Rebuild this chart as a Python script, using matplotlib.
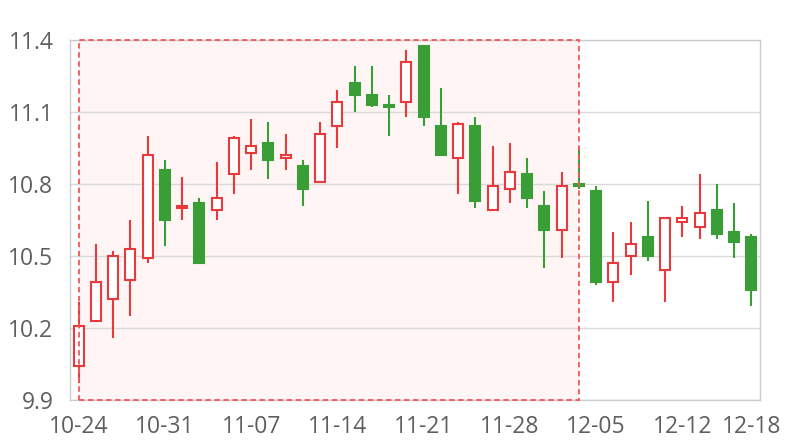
import matplotlib
matplotlib.use("Agg")
import matplotlib.pyplot as plt
from matplotlib.patches import Rectangle

dates = ["10-24", "10-25", "10-26", "10-27", "10-28",
         "10-31", "11-01", "11-02", "11-03", "11-04",
         "11-07", "11-08", "11-09", "11-10", "11-11",
         "11-14", "11-15", "11-16", "11-17", "11-18",
         "11-21", "11-22", "11-23", "11-24", "11-25",
         "11-28", "11-29", "11-30", "12-01", "12-02",
         "12-05", "12-06", "12-07", "12-08", "12-09",
         "12-12", "12-13", "12-14", "12-15", "12-18"]
opens = [10.04, 10.23, 10.32, 10.40, 10.49, 10.86, 10.70, 10.72, 10.69, 10.84,
         10.93, 10.97, 10.91, 10.875, 10.81, 11.04, 11.22, 11.17, 11.13, 11.14,
         11.375, 11.04, 10.91, 11.04, 10.69, 10.78, 10.84, 10.71, 10.61, 10.80,
         10.77, 10.39, 10.50, 10.58, 10.44, 10.64, 10.62, 10.69, 10.60, 10.58]
closes = [10.21, 10.39, 10.50, 10.53, 10.92, 10.65, 10.71, 10.47, 10.74, 10.99,
          10.96, 10.90, 10.92, 10.78, 11.01, 11.14, 11.17, 11.13, 11.12, 11.31,
          11.08, 10.92, 11.05, 10.73, 10.79, 10.85, 10.74, 10.61, 10.79, 10.79,
          10.39, 10.47, 10.55, 10.50, 10.66, 10.66, 10.68, 10.59, 10.56, 10.36]
highs = [10.31, 10.55, 10.52, 10.65, 11.00, 10.90, 10.83, 10.74, 10.89, 11.00,
         11.07, 11.06, 11.01, 10.90, 11.06, 11.19, 11.29, 11.29, 11.17, 11.36,
         11.38, 11.20, 11.06, 11.08, 10.96, 10.97, 10.91, 10.77, 10.85, 10.95,
         10.79, 10.60, 10.64, 10.73, 10.66, 10.71, 10.84, 10.80, 10.72, 10.59]
lows = [9.97, 10.23, 10.16, 10.25, 10.47, 10.54, 10.65, 10.47, 10.65, 10.76,
        10.86, 10.82, 10.86, 10.71, 10.81, 10.95, 11.10, 11.12, 11.00, 11.08,
        11.04, 10.92, 10.76, 10.70, 10.69, 10.72, 10.70, 10.45, 10.49, 10.78,
        10.38, 10.31, 10.42, 10.48, 10.31, 10.58, 10.57, 10.57, 10.49, 10.29]
area_start = "10-24"
area_end = "12-02"
tick_labels = ["10-24", "10-31", "11-07", "11-14", "11-21", "11-28", "12-05", "12-12", "12-18"]
y_ticks = [9.9, 10.2, 10.5, 10.8, 11.1, 11.4]

UP = "#e8393d"
DOWN = "#3a9e36"
TXT = "#5f5f5f"

plt.rcParams['font.family'] = ['Open Sans', 'DejaVu Sans']

fig = plt.figure(figsize=(8, 4.4), dpi=100)
ax = fig.add_axes([0.0875, 0.0909, 0.8625, 0.8182])

x = list(range(len(dates)))
w = 0.58
for i in x:
    o, c, h, l = opens[i], closes[i], highs[i], lows[i]
    up = c >= o
    col = UP if up else DOWN
    lo_b, hi_b = min(o, c), max(o, c)
    ax.plot([i, i], [hi_b, h], color=col, lw=1.5, zorder=3, solid_capstyle='butt')
    ax.plot([i, i], [l, lo_b], color=col, lw=1.5, zorder=3, solid_capstyle='butt')
    ax.add_patch(Rectangle((i - w / 2, lo_b), w, max(hi_b - lo_b, 0.004),
                           facecolor="white" if up else col, edgecolor=col,
                           lw=1.5, zorder=4))

# mark area
xs = dates.index(area_start)
xe = dates.index(area_end)
ax.add_patch(Rectangle((xs, 9.9), xe - xs, 1.5, facecolor="#fff5f5",
                       edgecolor="none", zorder=0))
ax.add_patch(Rectangle((xs, 9.9), xe - xs, 1.5, facecolor="none",
                       edgecolor="#f0575a", lw=1.3, linestyle=(0, (3, 2)),
                       zorder=5, clip_on=False))

ax.set_xlim(-0.5, len(dates) - 0.5)
ax.set_ylim(9.9, 11.4)
ax.set_yticks(y_ticks)
ax.set_yticklabels([f"{v:.1f}" for v in y_ticks])
ax.set_xticks([dates.index(t) for t in tick_labels])
ax.set_xticklabels(tick_labels)
ax.tick_params(axis='both', length=0, colors=TXT, labelsize=16.5)
ax.tick_params(axis='x', pad=11)
ax.tick_params(axis='y', pad=12)
ax.grid(axis='y', color="#d9d9d9", lw=1, zorder=1)
ax.set_axisbelow(True)
for s in ax.spines.values():
    s.set_color("#cccccc")
    s.set_linewidth(1)

fig.savefig("out.png", dpi=100)
